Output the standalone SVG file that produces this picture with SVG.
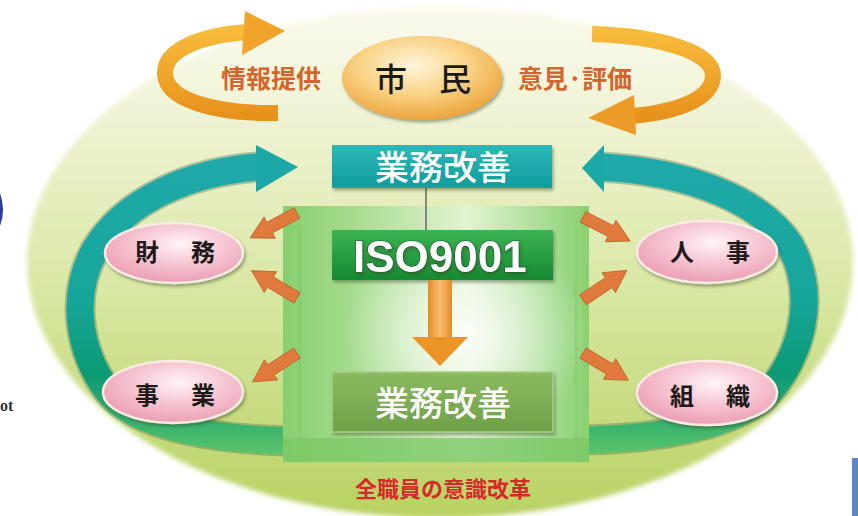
<svg xmlns="http://www.w3.org/2000/svg" width="858" height="516" viewBox="0 0 858 516">
<defs>
<style>
.jp{font-family:"Noto Sans CJK JP","Noto Sans CJK SC",sans-serif;}
.lbl{font-size:24px;font-weight:700;fill:#1e1a1a;letter-spacing:4px;}
.org{font-size:25px;font-weight:700;fill:#d4652c;}
.box{font-size:34px;font-weight:500;fill:#ffffff;}
.pink{fill:url(#pinkG);stroke:#f7ece2;stroke-width:2.5;filter:url(#sh);}
.sarr{fill:#e07a3c;stroke:#c2602c;stroke-width:0.8;}
</style>
<linearGradient id="bgG" x1="0" y1="0" x2="0" y2="1">
<stop offset="0" stop-color="#fbfaee"/>
<stop offset="0.25" stop-color="#eef2d0"/>
<stop offset="0.55" stop-color="#d9e7a4"/>
<stop offset="1" stop-color="#b8d262"/>
</linearGradient>
<radialGradient id="citG" cx="0.45" cy="0.35" r="0.65">
<stop offset="0" stop-color="#fff6dc"/>
<stop offset="0.55" stop-color="#f9d183"/>
<stop offset="1" stop-color="#eca43c"/>
</radialGradient>
<radialGradient id="pinkG" cx="0.55" cy="0.35" r="0.65">
<stop offset="0" stop-color="#fff4f7"/>
<stop offset="0.5" stop-color="#f6c6d3"/>
<stop offset="1" stop-color="#ec9fb4"/>
</radialGradient>
<linearGradient id="tealL" gradientUnits="userSpaceOnUse" x1="0" y1="160" x2="0" y2="455">
<stop offset="0" stop-color="#1fa9a8"/>
<stop offset="0.45" stop-color="#17a69c"/>
<stop offset="0.72" stop-color="#0c9a76"/>
<stop offset="0.88" stop-color="#33b06e"/>
<stop offset="1" stop-color="#5cc46c"/>
</linearGradient>
<linearGradient id="orgArc" x1="0" y1="0" x2="0" y2="1">
<stop offset="0" stop-color="#f7bb3a"/>
<stop offset="1" stop-color="#e8921e"/>
</linearGradient>
<linearGradient id="tealBox" x1="0" y1="0" x2="0" y2="1">
<stop offset="0" stop-color="#2db7b6"/>
<stop offset="1" stop-color="#129c9c"/>
</linearGradient>
<linearGradient id="isoBox" x1="0" y1="0" x2="0" y2="1">
<stop offset="0" stop-color="#3cb352"/>
<stop offset="1" stop-color="#168a32"/>
</linearGradient>
<linearGradient id="oliveBox" x1="0" y1="0" x2="0" y2="1">
<stop offset="0" stop-color="#8cba60"/>
<stop offset="1" stop-color="#6e9f48"/>
</linearGradient>
<linearGradient id="panelG" x1="0" y1="0" x2="1" y2="0">
<stop offset="0" stop-color="#86cf6e"/>
<stop offset="0.2" stop-color="#a2da8a"/>
<stop offset="0.6" stop-color="#e2f3d2"/>
<stop offset="0.9" stop-color="#9ed88a"/>
<stop offset="1" stop-color="#8ad070"/>
</linearGradient>
<radialGradient id="glow" cx="0.6" cy="0.5" r="0.4">
<stop offset="0" stop-color="#ffffff" stop-opacity="0.85"/>
<stop offset="1" stop-color="#ffffff" stop-opacity="0"/>
</radialGradient>
<linearGradient id="shaft" x1="0" y1="0" x2="1" y2="0">
<stop offset="0" stop-color="#e48a28"/>
<stop offset="0.5" stop-color="#f8bf6c"/>
<stop offset="1" stop-color="#e48a28"/>
</linearGradient>
<filter id="sh" x="-20%" y="-20%" width="140%" height="150%">
<feDropShadow dx="1.5" dy="2.5" stdDeviation="1.8" flood-color="#3a4a2a" flood-opacity="0.45"/>
</filter>
<filter id="soft" x="-5%" y="-5%" width="110%" height="110%">
<feGaussianBlur stdDeviation="2.5"/>
</filter>
<polygon id="sarrow" points="0,-6 31,-6 31,-12 53,0 31,12 31,6 0,6"/>
</defs>

<rect width="858" height="516" fill="#ffffff"/>

<g id="background">
<ellipse cx="440" cy="262" rx="413" ry="256" fill="url(#bgG)" filter="url(#soft)"/>
<path d="M0 193 Q 6 210 0 226 Z" fill="#2b3c9c"/>
<text x="0" y="411" font-family="Liberation Serif, serif" font-weight="700" font-size="16" fill="#333333">ot</text>
<rect x="852" y="458" width="6" height="58" fill="#5b87c9"/>
</g>

<g id="connectors">
<path d="M 278 113 C 215 114, 166 100, 165 74 C 164 48, 205 35, 248 32" fill="none" stroke="url(#orgArc)" stroke-width="16"/>
<polygon points="245,11 285,31 242,55" fill="#f1a42c"/>
<path d="M 592 34 C 660 36, 714 52, 713 76 C 712 100, 675 112, 632 116" fill="none" stroke="url(#orgArc)" stroke-width="16"/>
<polygon points="634,95 588,118 636,135" fill="#ec9a28"/>

<path d="M 305 441 C 220 441, 135 428, 107 390 C 78 350, 70 295, 95 250 C 125 200, 190 172, 258 167" fill="none" stroke="#3d6a4a" stroke-width="31" opacity="0.35"/>
<path d="M 305 441 C 220 441, 135 428, 107 390 C 78 350, 70 295, 95 250 C 125 200, 190 172, 258 167" fill="none" stroke="url(#tealL)" stroke-width="27"/>
<polygon points="256,145 298,167 256,192" fill="#1ca8a6"/>
<path d="M 573 440 C 660 440, 745 425, 775 385 C 805 345, 815 290, 790 245 C 760 200, 690 172, 602 167" fill="none" stroke="#3d6a4a" stroke-width="31" opacity="0.35"/>
<path d="M 573 440 C 660 440, 745 425, 775 385 C 805 345, 815 290, 790 245 C 760 200, 690 172, 602 167" fill="none" stroke="url(#tealL)" stroke-width="27"/>
<polygon points="604,145 582,168 604,192" fill="#1ca8a6"/>
</g>

<g id="panel">
<rect x="283" y="206" width="306" height="256" fill="url(#panelG)"/>
<rect x="283" y="206" width="306" height="256" fill="url(#glow)"/>
<rect x="283" y="438" width="306" height="24" fill="#7cc866" opacity="0.8"/>
<line x1="300" y1="225" x2="300" y2="440" stroke="#7cc664" stroke-width="1.5" opacity="0.6"/>
<line x1="576" y1="225" x2="576" y2="440" stroke="#7cc664" stroke-width="1.5" opacity="0.6"/>
</g>

<g id="citizen">
<ellipse cx="422" cy="78" rx="80" ry="42" fill="url(#citG)" filter="url(#sh)"/>
<text class="jp" x="423" y="91" text-anchor="middle" font-size="32" font-weight="500" fill="#1a1a1a">市　民</text>
</g>
<g id="label-info">
<text class="jp org" x="271" y="88" text-anchor="middle">情報提供</text>
</g>
<g id="label-opinion">
<text class="jp org" x="575" y="88" text-anchor="middle" textLength="114" lengthAdjust="spacing">意見·評価</text>
</g>

<g id="link-top">
<line x1="426" y1="188" x2="426" y2="230" stroke="#666666" stroke-width="1.5"/>
</g>

<g id="box-top">
<rect x="332" y="145" width="220" height="43" fill="url(#tealBox)" filter="url(#sh)"/>
<text class="jp box" x="443" y="180" text-anchor="middle">業務改善</text>
</g>

<g id="box-iso">
<rect x="332" y="230" width="221" height="50" fill="url(#isoBox)" filter="url(#sh)"/>
<text x="353" y="272" font-family="Liberation Sans, Arial, sans-serif" font-weight="700" font-size="44" fill="#ffffff" stroke="#0d5a22" stroke-width="1.2" paint-order="stroke" filter="url(#sh)">ISO9001</text>
</g>

<g id="arrow-down">
<rect x="428" y="280" width="24" height="58" fill="url(#shaft)"/>
<polygon points="412,337 468,337 440,366" fill="#ec9428"/>
</g>

<g id="box-bottom">
<rect x="332" y="372" width="221" height="60" fill="url(#oliveBox)" stroke="#a8cf84" stroke-width="1.5" filter="url(#sh)"/>
<text class="jp box" x="443" y="416" text-anchor="middle">業務改善</text>
</g>

<g id="small-arrows">
<use href="#sarrow" class="sarr" transform="translate(297,213) rotate(152)"/>
<use href="#sarrow" class="sarr" transform="translate(297,298) rotate(211)"/>
<use href="#sarrow" class="sarr" transform="translate(297,353) rotate(147)"/>
<use href="#sarrow" class="sarr" transform="translate(583,217) rotate(27)"/>
<use href="#sarrow" class="sarr" transform="translate(583,300) rotate(-34)"/>
<use href="#sarrow" class="sarr" transform="translate(583,353) rotate(31)"/>
</g>

<g id="finance">
<ellipse class="pink" cx="174" cy="253" rx="69" ry="30"/>
<text class="jp lbl" x="135" y="261">財　務</text>
</g>
<g id="hr">
<ellipse class="pink" cx="707" cy="252" rx="70" ry="31"/>
<text class="jp lbl" x="670" y="261">人　事</text>
</g>
<g id="business">
<ellipse class="pink" cx="173" cy="392" rx="70" ry="31"/>
<text class="jp lbl" x="135" y="404">事　業</text>
</g>
<g id="organization">
<ellipse class="pink" cx="707" cy="393" rx="70" ry="32"/>
<text class="jp lbl" x="670" y="405">組　織</text>
</g>

<g id="caption">
<text class="jp" x="443" y="497" text-anchor="middle" font-size="22" font-weight="700" fill="#d8282a">全職員の意識改革</text>
</g>
</svg>
